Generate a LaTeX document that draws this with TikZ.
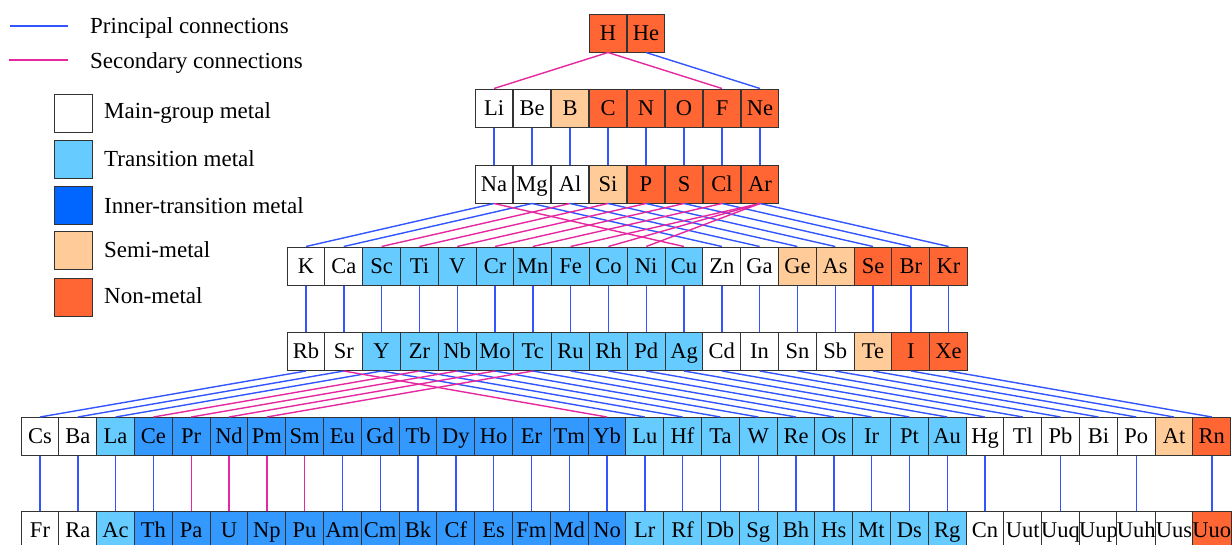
\documentclass[tikz,border=0pt]{standalone}
\usepackage{fontspec}
\setmainfont{Liberation Serif}
\usepackage{tikz}

\definecolor{mg}{RGB}{255,255,255}
\definecolor{tm}{RGB}{102,204,255}
\definecolor{itm}{RGB}{51,153,255}
\definecolor{itmkey}{RGB}{0,102,255}
\definecolor{sm}{RGB}{255,204,153}
\definecolor{nm}{RGB}{255,102,51}
\definecolor{princ}{RGB}{51,85,255}
\definecolor{second}{RGB}{230,40,160}

\tikzset{
  cell/.style={
    draw=black!80, line width=1pt, fill=#1,
    minimum width=37.8pt, minimum height=38pt, inner sep=0pt,
    text height=14pt, text depth=0pt,
    font=\fontsize{22.5}{22.5}\selectfont
  },
  keybox/.style={
    draw=black!80, line width=1pt, fill=#1,
    minimum width=38pt, minimum height=38pt, inner sep=0pt
  },
  keytext/.style={anchor=base west, inner sep=0pt, font=\fontsize{23}{23}\selectfont},
  principal/.style={draw=princ, line width=1.4pt},
  secondary/.style={draw=second, line width=1.4pt}
}

\begin{document}
\begin{tikzpicture}[x=1pt, y=-1pt]
\clip (0,0) rectangle (1232,544);

%% Legend
\coordinate (p1) at (10,26);
\coordinate (p2) at (68,26);
\coordinate (s1) at (9,60);
\coordinate (s2) at (68,60);
\draw[principal] (p1) -- (p2);
\draw[secondary] (s1) -- (s2);
\node[keytext] (tprinc) at (90,33) {Principal connections};
\node[keytext] (tsec) at (90,68) {Secondary connections};

\node[keybox=mg] (kmg) at (73,113) {};
\node[keybox=tm] (ktm) at (73,159) {};
\node[keybox=itmkey] (kitm) at (73,205) {};
\node[keybox=sm] (ksm) at (73,250.5) {};
\node[keybox=nm] (knm) at (73,297) {};
\node[keytext] (tmg) at (104,118) {Main-group metal};
\node[keytext] (ttm) at (104,166) {Transition metal};
\node[keytext] (titm) at (104,213) {Inner-transition metal};
\node[keytext] (tsm) at (104,257) {Semi-metal};
\node[keytext] (tnm) at (104,303) {Non-metal};

%% Period 1
\node[cell=nm] (H) at (608,33) {H};
\node[cell=nm] (He) at (646,33) {He};

%% Periods 2 and 3
\foreach \s/\c [count=\i from 0] in {Li/mg,Be/mg,B/sm,C/nm,N/nm,O/nm,F/nm,Ne/nm}
  \node[cell=\c] (\s) at ({494+38*\i},108) {\s};
\foreach \s/\c [count=\i from 0] in {Na/mg,Mg/mg,Al/mg,Si/sm,P/nm,S/nm,Cl/nm,Ar/nm}
  \node[cell=\c] (\s) at ({494+38*\i},184) {\s};

%% Periods 4 and 5
\foreach \s/\c [count=\i from 0] in {K/mg,Ca/mg,Sc/tm,Ti/tm,V/tm,Cr/tm,Mn/tm,Fe/tm,Co/tm,Ni/tm,Cu/tm,Zn/mg,Ga/mg,Ge/sm,As/sm,Se/nm,Br/nm,Kr/nm}
  \node[cell=\c] (\s) at ({306+37.8*\i},266) {\s};
\foreach \s/\c [count=\i from 0] in {Rb/mg,Sr/mg,Y/tm,Zr/tm,Nb/tm,Mo/tm,Tc/tm,Ru/tm,Rh/tm,Pd/tm,Ag/tm,Cd/mg,In/mg,Sn/mg,Sb/mg,Te/sm,I/nm,Xe/nm}
  \node[cell=\c] (\s) at ({306+37.8*\i},351.5) {\s};

%% Periods 6 and 7
\foreach \s/\c [count=\i from 0] in {Cs/mg,Ba/mg,La/tm,Ce/itm,Pr/itm,Nd/itm,Pm/itm,Sm/itm,Eu/itm,Gd/itm,Tb/itm,Dy/itm,Ho/itm,Er/itm,Tm/itm,Yb/itm,Lu/tm,Hf/tm,Ta/tm,W/tm,Re/tm,Os/tm,Ir/tm,Pt/tm,Au/tm,Hg/mg,Tl/mg,Pb/mg,Bi/mg,Po/mg,At/sm,Rn/nm}
  \node[cell=\c] (\s) at ({40+37.8*\i},436.5) {\s};
\foreach \s/\c [count=\i from 0] in {Fr/mg,Ra/mg,Ac/tm,Th/itm,Pa/itm,U/itm,Np/itm,Pu/itm,Am/itm,Cm/itm,Bk/itm,Cf/itm,Es/itm,Fm/itm,Md/itm,No/itm,Lr/tm,Rf/tm,Db/tm,Sg/tm,Bh/tm,Hs/tm,Mt/tm,Ds/tm,Rg/tm,Cn/mg,Uut/mg,Uuq/mg,Uup/mg,Uuh/mg,Uus/mg,Uuo/nm}
  \node[cell=\c] (\s) at ({40+37.8*\i},530) {\s};

%% Principal connections
\foreach \a/\b in {He/Ne,
    Li/Na,Be/Mg,B/Al,C/Si,N/P,O/S,F/Cl,Ne/Ar,
    Na/K,Mg/Ca,Mg/Zn,Al/Ga,Si/Ge,P/As,S/Se,Cl/Br,Ar/Kr,
    K/Rb,Ca/Sr,Sc/Y,Ti/Zr,V/Nb,Cr/Mo,Mn/Tc,Fe/Ru,Co/Rh,Ni/Pd,Cu/Ag,Zn/Cd,Ga/In,Ge/Sn,As/Sb,Se/Te,Br/I,Kr/Xe,
    Rb/Cs,Sr/Ba,Y/La,Y/Lu,Zr/Hf,Nb/Ta,Mo/W,Tc/Re,Ru/Os,Rh/Ir,Pd/Pt,Ag/Au,Cd/Hg,In/Tl,Sn/Pb,Sb/Bi,Te/Po,I/At,Xe/Rn,
    Cs/Fr,Ba/Ra,La/Ac,Ce/Th,Eu/Am,Gd/Cm,Tb/Bk,Dy/Cf,Ho/Es,Er/Fm,Tm/Md,Yb/No,Lu/Lr,Hf/Rf,Ta/Db,W/Sg,Re/Bh,Os/Hs,Ir/Mt,Pt/Ds,Au/Rg,Hg/Cn,Pb/Uuq,Po/Uuh,Rn/Uuo}
  \draw[principal] (\a.south) -- (\b.north);

%% Secondary connections
\foreach \a/\b in {H/Li,H/F,
    Na/Cu,Al/Sc,Si/Ti,P/V,S/Cr,Cl/Mn,Ar/Fe,Ar/Co,Ar/Ni,
    Sr/Yb,Zr/Ce,Nb/Pr,Mo/Nd,Tc/Pm,
    Pr/Pa,Nd/U,Pm/Np,Sm/Pu}
  \draw[secondary] (\a.south) -- (\b.north);

\end{tikzpicture}
\end{document}
